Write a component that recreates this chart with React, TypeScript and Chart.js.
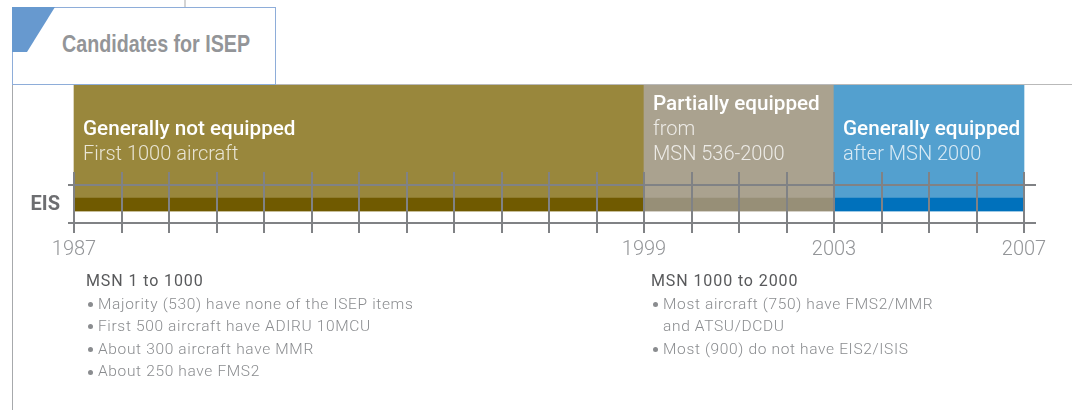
import React, { useEffect, useRef } from 'react';
import { Chart, registerables } from 'chart.js';

Chart.register(...registerables);

// Timeline periods of ISEP equipment status
const periodStart = [1987, 1999, 2003];
const periodEnd = [1999, 2003, 2007];
const timelineMin = 1987;
const timelineMax = 2007;
const axisYears = [1987, 1999, 2003, 2007];
const laneLabels = ['Status', 'EIS'];
const periodTitles = ['Generally not equipped', 'Partially equipped', 'Generally equipped'];
const periodDetails = [['First 1000 aircraft'], ['from', 'MSN 536-2000'], ['after MSN 2000']];
const statusColors = ['#99873c', '#aaa28f', '#53a0cf'];
const eisColors = ['#705a00', '#978f77', '#0071bc'];

// Notes under the timeline
const earlyHeading = 'MSN 1 to 1000';
const earlyNotes = [
  ['Majority (530) have none of the ISEP items'],
  ['First 500 aircraft have ADIRU 10MCU'],
  ['About 300 aircraft have MMR'],
  ['About 250 have FMS2'],
];
const laterHeading = 'MSN 1000 to 2000';
const laterNotes = [
  ['Most aircraft (750) have FMS2/MMR', 'and ATSU/DCDU'],
  ['Most (900) do not have EIS2/ISIS'],
];

const GRID_COLOR = '#808285';

// Draws the year ladder over the bars and the period captions inside them
const timelinePlugin = {
  id: 'timelineLadder',
  afterDatasetsDraw(chart: any) {
    const { ctx } = chart;
    const xs = chart.scales.x;
    const band = chart.getDatasetMeta(0).data[0].getProps(['y', 'height'], true);
    const bandTop = band.y - band.height / 2;
    const bandBottom = band.y + band.height / 2;
    const upperRail = bandTop - 13;
    const lowerRail = bandBottom + 12;

    ctx.save();
    ctx.strokeStyle = GRID_COLOR;
    ctx.lineWidth = 2;
    ctx.beginPath();
    const railLeft = xs.getPixelForValue(timelineMin) - 6;
    const railRight = xs.getPixelForValue(timelineMax) + 12;
    ctx.moveTo(railLeft, upperRail);
    ctx.lineTo(railRight, upperRail);
    ctx.moveTo(railLeft, lowerRail);
    ctx.lineTo(railRight, lowerRail);
    for (let yr = timelineMin; yr <= timelineMax; yr++) {
      const px = Math.round(xs.getPixelForValue(yr));
      ctx.moveTo(px, upperRail - 13);
      ctx.lineTo(px, lowerRail + 10);
    }
    ctx.stroke();

    // captions
    const statusMeta = chart.getDatasetMeta(1);
    ctx.textAlign = 'left';
    ctx.textBaseline = 'alphabetic';
    statusMeta.data.forEach((el: any, i: number) => {
      const p = el.getProps(['y', 'height'], true);
      const top = p.y - p.height / 2;
      const left = xs.getPixelForValue(periodStart[i]) + 9;
      const lines = [periodTitles[i], ...periodDetails[i]];
      lines.forEach((line, k) => {
        const slot = 3 - lines.length + k;
        ctx.font = k === 0 ? '500 20.7px Roboto' : '300 20px Roboto';
        ctx.fillStyle = k === 0 ? '#ffffff' : 'rgba(255,255,255,0.78)';
        ctx.fillText(line, left, top + 25 * (slot + 1));
      });
    });
    ctx.restore();
  },
};

function NoteBlock({ left, heading, notes }: { left: number; heading: string; notes: string[][] }) {
  return (
    <div style={{ position: 'absolute', left, top: 270, fontFamily: 'Roboto' }}>
      <div style={{ fontSize: 16, fontWeight: 400, color: '#58595b', lineHeight: '22.5px', whiteSpace: 'nowrap', letterSpacing: '0.9px' }}>
        {heading}
      </div>
      {notes.map((lines, i) =>
        lines.map((line, k) => (
          <div
            key={i + '-' + k}
            style={{ fontSize: 15.5, fontWeight: 300, color: '#8a8c8f', lineHeight: '22.6px', whiteSpace: 'nowrap', display: 'flex', alignItems: 'center' }}
          >
            <span style={{ width: 12, display: 'flex', alignItems: 'center' }}>
              {k === 0 ? (
                <span style={{ display: 'inline-block', width: 5, height: 5, marginLeft: 2, marginTop: 1, borderRadius: '50%', background: '#8a8c8f' }} />
              ) : null}
            </span>
            <span style={{ letterSpacing: '0.65px' }}>{line}</span>
          </div>
        ))
      )}
    </div>
  );
}

export default function App() {
  const canvasRef = useRef<HTMLCanvasElement>(null);

  useEffect(() => {
    const chart = new Chart(canvasRef.current as HTMLCanvasElement, {
      type: 'bar',
      data: {
        labels: laneLabels,
        datasets: [
          {
            label: 'EIS',
            data: periodStart.map((s, i) => ({ x: [s, periodEnd[i]], y: 'EIS' })) as any,
            backgroundColor: eisColors,
            barThickness: 13,
            stack: 'lane',
            clip: false as any,
          },
          {
            label: 'Status',
            data: periodStart.map((s, i) => ({ x: [s, periodEnd[i]], y: 'Status' })) as any,
            backgroundColor: statusColors,
            barThickness: 126,
            stack: 'lane',
            clip: false as any,
          },
        ],
      },
      options: {
        indexAxis: 'y',
        animation: false,
        responsive: false,
        devicePixelRatio: 1,
        layout: { padding: { top: 119.75, left: 14, right: 48, bottom: 147.25 } },
        plugins: { legend: { display: false }, tooltip: { enabled: false } },
        scales: {
          x: {
            type: 'linear',
            min: timelineMin,
            max: timelineMax,
            stacked: false,
            grid: { display: false, drawTicks: false },
            border: { display: false },
            afterBuildTicks: (scale: any) => {
              scale.ticks = axisYears.map((v) => ({ value: v }));
            },
            afterFit: (scale: any) => {
              scale.height = 30;
            },
            ticks: {
              autoSkip: false,
              maxRotation: 0,
              padding: 5,
              color: '#939598',
              font: { family: 'Roboto', size: 20, weight: '300' as any },
              callback: (v: any) => String(v),
            },
          },
          y: {
            type: 'category',
            grid: { display: false, drawTicks: false },
            border: { display: false },
            afterFit: (scale: any) => {
              scale.width = 60;
            },
            ticks: {
              padding: 14,
              color: '#6d6e71',
              font: { family: 'Roboto', size: 20, weight: 'bold' },
              callback: function (this: any, v: any) {
                const l = this.getLabelForValue(v);
                return l === 'EIS' ? l : '';
              },
            },
          },
        },
      },
      plugins: [timelinePlugin],
    });
    return () => chart.destroy();
  }, []);

  return (
    <div style={{ position: 'absolute', left: 0, top: 0, width: 1072, height: 410, overflow: 'hidden', background: '#ffffff' }}>
      <canvas ref={canvasRef} width={1072} height={410} style={{ position: 'absolute', left: 0, top: 0, width: 1072, height: 410 }} />
      {/* header tab */}
      <div style={{ position: 'absolute', left: 184, top: 0, width: 2, height: 7, background: '#d4d4d4' }} />
      <div style={{ position: 'absolute', left: 276, top: 84, width: 796, height: 1, background: '#b9b9b9' }} />
      <div style={{ position: 'absolute', left: 12, top: 85, width: 1, height: 325, background: '#a7a9ac' }} />
      <div style={{ position: 'absolute', left: 12, top: 7, width: 262, height: 76, border: '1px solid #8eadd9', background: '#ffffff' }} />
      <div
        style={{
          position: 'absolute', left: 12, top: 7, width: 43, height: 45, background: '#6799cf',
          clipPath: 'polygon(0 0, 100% 0, 15px 100%, 0 100%)',
        }}
      />
      <div
        style={{
          position: 'absolute', left: 62, top: 31.7, fontFamily: '"Liberation Sans"', fontWeight: 700,
          fontSize: 24, lineHeight: '24px', color: '#939598', whiteSpace: 'nowrap',
          transform: 'scaleX(0.82)', transformOrigin: '0 0',
        }}
      >
        Candidates for ISEP
      </div>
      <NoteBlock left={86} heading={earlyHeading} notes={earlyNotes} />
      <NoteBlock left={651} heading={laterHeading} notes={laterNotes} />
    </div>
  );
}
